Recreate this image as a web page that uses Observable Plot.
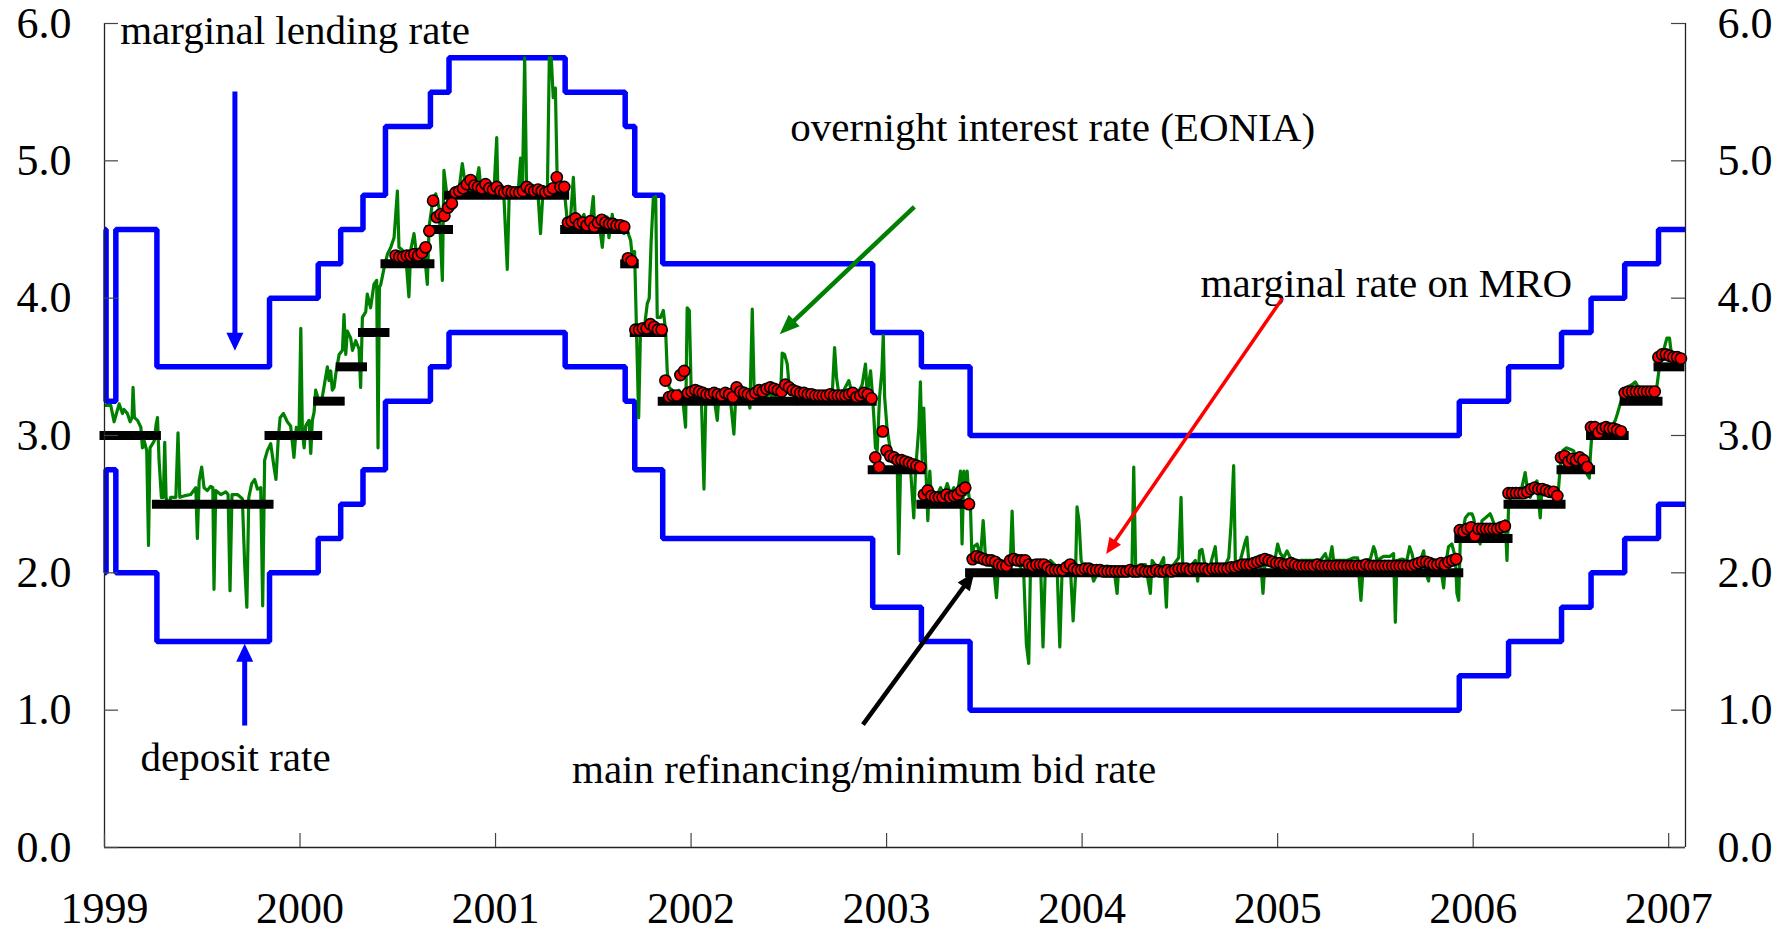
<!DOCTYPE html>
<html><head><meta charset="utf-8">
<script src="https://cdn.jsdelivr.net/npm/d3@7"></script>
<script src="https://cdn.jsdelivr.net/npm/@observablehq/plot@0.6"></script>
<style>html,body{margin:0;padding:0;background:#fff;}</style>
</head><body><div id="chart"></div>
<script>
// ---------- DATA (x = decimal year) ----------
const yTicks = [0, 1, 2, 3, 4, 5, 6];
const xTicks = [1999, 2000, 2001, 2002, 2003, 2004, 2005, 2006, 2007];

// ECB standing facility rates (step changes)
const policyDates      = [1999.000,1999.008,1999.058,1999.268,1999.844,2000.093,2000.208,2000.322,2000.437,2000.667,2000.762,2001.356,2001.663,2001.712,2001.855,2002.929,2003.178,2003.427,2005.929,2006.181,2006.452,2006.603,2006.775,2006.948,2007.086];
const marginalLending  = [4.50,3.25,4.50,3.50,4.00,4.25,4.50,4.75,5.25,5.50,5.75,5.50,5.25,4.75,4.25,3.75,3.50,3.00,3.25,3.50,3.75,4.00,4.25,4.50,4.50];
const depositRate      = [2.00,2.75,2.00,1.50,2.00,2.25,2.50,2.75,3.25,3.50,3.75,3.50,3.25,2.75,2.25,1.75,1.50,1.00,1.25,1.50,1.75,2.00,2.25,2.50,2.50];

// main refinancing / minimum bid rate
const mroFrom = [1999.000,1999.268,1999.844,2000.093,2000.208,2000.322,2000.437,2000.667,2000.762,2001.356,2001.663,2001.712,2001.855,2002.929,2003.178,2003.427,2005.929,2006.181,2006.452,2006.603,2006.775,2006.948];
const mroTo   = [1999.268,1999.844,2000.093,2000.208,2000.322,2000.437,2000.667,2000.762,2001.356,2001.663,2001.712,2001.855,2002.929,2003.178,2003.427,2005.929,2006.181,2006.452,2006.603,2006.775,2006.948,2007.060];
const mroRate = [3.00,2.50,3.00,3.25,3.50,3.75,4.25,4.50,4.75,4.50,4.25,3.75,3.25,2.75,2.50,2.00,2.25,2.50,2.75,3.00,3.25,3.50];

// marginal rate on weekly MROs, first variable-rate tender 28 June 2000
const mroMarginalStart = 2000.489;
const mroMarginal = [
  4.31,4.30,4.30,4.31,4.31,4.32,4.31,4.33,4.37,4.49,
  4.71,4.59,4.61,4.60,4.66,
  4.69,4.77,4.78,4.80,4.83,4.86,4.82,4.81,4.80,4.83,4.80,4.79,4.81,4.78,4.77,4.78,4.77,4.77,4.77,4.78,4.81,4.79,4.78,4.79,4.78,4.77,4.78,4.80,4.88,4.81,4.81,
  4.55,4.56,4.58,4.54,4.55,4.53,4.56,4.52,4.55,4.57,4.55,4.54,4.54,4.53,4.53,4.52,
  4.29,4.27,
  3.77,3.77,3.78,3.78,3.81,3.79,3.77,3.77,
  3.40,3.28,3.29,3.29,3.44,3.47,3.31,3.32,3.33,3.32,
  3.31,3.30,3.30,3.31,3.30,3.29,3.31,3.30,3.28,3.35,
  3.32,3.31,3.30,3.29,3.31,3.33,3.32,3.34,3.35,3.34,
  3.33,3.32,3.37,3.35,3.33,3.32,3.31,3.31,3.30,3.30,
  3.29,3.29,3.29,3.29,3.30,3.29,3.29,3.29,3.29,3.30,
  3.31,3.28,3.29,3.31,3.30,3.27,
  2.84,2.77,3.03,2.89,2.85,2.84,2.82,2.82,2.81,2.80,2.79,2.78,2.77,
  2.57,2.60,2.56,2.55,2.55,2.55,2.57,2.55,2.56,2.57,2.60,2.62,2.50,
  2.10,2.12,2.11,2.10,2.09,2.09,2.08,2.06,2.05,2.05,
  2.09,2.10,2.09,2.09,2.09,2.06,2.05,2.06,2.06,2.06,
  2.04,2.02,2.02,2.02,2.02,2.04,2.06,2.03,2.02,2.02,
  2.03,2.03,2.02,2.02,2.02,2.01,2.01,2.01,2.01,2.01,
  2.01,2.01,2.02,2.01,2.01,2.02,2.01,2.01,2.01,2.02,
  2.01,2.01,2.02,2.01,2.02,2.03,2.03,2.03,2.02,2.03,
  2.03,2.03,2.03,2.02,2.03,2.03,2.03,2.03,2.03,2.04,
  2.04,2.05,2.06,2.06,2.06,2.07,2.08,2.09,2.10,2.09,
  2.08,2.07,2.07,2.06,2.06,2.07,2.06,2.05,2.05,2.05,
  2.05,2.05,2.06,2.05,2.05,2.05,2.05,2.05,2.05,2.05,
  2.05,2.05,2.05,2.05,2.05,2.06,2.05,2.05,2.05,2.05,
  2.05,2.05,2.05,2.05,2.05,2.05,2.05,2.05,2.06,2.07,
  2.08,2.08,2.07,2.06,2.06,2.07,2.06,2.08,2.09,2.10,
  2.31,2.30,2.32,2.33,2.27,2.32,2.32,2.32,2.32,2.32,2.32,2.33,2.34,
  2.58,2.58,2.58,2.58,2.58,2.59,2.61,2.62,2.61,2.61,2.60,2.59,2.59,2.56,
  2.84,2.85,2.81,2.83,2.82,2.84,2.82,2.77,
  3.06,3.06,3.02,3.05,3.06,3.05,3.05,3.04,3.03,
  3.31,3.32,3.32,3.32,3.32,3.32,3.32,3.32,3.32,
  3.57,3.59,3.59,3.58,3.57,3.57,3.56
];

// overnight interest rate (EONIA), [decimal year, rate]
const eonia1999 = [[1999.005,3.22],[1999.032,3.22],[1999.049,3.10],[1999.075,3.23],[1999.092,3.16],[1999.100,3.19],[1999.117,3.16],[1999.131,3.10],[1999.141,3.13],[1999.146,3.35],[1999.153,3.13],[1999.169,3.11],[1999.186,3.06],[1999.194,2.91],[1999.203,2.96],[1999.216,2.89],[1999.225,2.20],[1999.233,2.91],[1999.254,2.96],[1999.264,3.08],[1999.271,3.13],[1999.279,2.82],[1999.291,2.55],[1999.301,2.55],[1999.308,2.95],[1999.315,2.55],[1999.325,2.48],[1999.339,2.55],[1999.365,2.55],[1999.376,3.02],[1999.385,2.55],[1999.407,2.56],[1999.441,2.57],[1999.467,2.62],[1999.475,2.25],[1999.484,2.67],[1999.497,2.77],[1999.509,2.62],[1999.526,2.60],[1999.543,2.63],[1999.554,2.62],[1999.560,1.88],[1999.569,2.60],[1999.595,2.57],[1999.620,2.59],[1999.632,2.57],[1999.642,1.87],[1999.652,2.57],[1999.680,2.57],[1999.705,2.54],[1999.717,2.06],[1999.728,1.75],[1999.738,2.55],[1999.753,2.65],[1999.768,2.68],[1999.782,2.61],[1999.799,2.62],[1999.809,1.76],[1999.819,2.82],[1999.833,2.89],[1999.850,2.94],[1999.867,2.77],[1999.877,2.68],[1999.888,2.96],[1999.898,3.13],[1999.915,3.16],[1999.935,3.10],[1999.952,3.07],[1999.969,2.84],[1999.981,3.06],[1999.995,3.03]];
const eonia2000 = [[2000.004,3.78],[2000.012,3.03],[2000.021,2.91],[2000.029,3.07],[2000.046,3.11],[2000.055,2.87],[2000.063,3.11],[2000.072,3.17],[2000.080,3.33],[2000.097,3.25],[2000.114,3.28],[2000.140,3.50],[2000.148,3.40],[2000.157,3.47],[2000.165,3.33],[2000.174,3.35],[2000.183,3.45],[2000.200,3.59],[2000.217,3.62],[2000.225,3.88],[2000.234,3.59],[2000.242,3.76],[2000.259,3.71],[2000.268,3.62],[2000.285,3.69],[2000.302,3.63],[2000.310,3.35],[2000.319,3.86],[2000.336,3.90],[2000.344,4.03],[2000.361,3.93],[2000.378,4.10],[2000.392,4.13],[2000.399,2.91],[2000.406,4.08],[2000.413,4.10],[2000.430,4.22],[2000.447,4.32],[2000.464,4.37],[2000.481,4.44],[2000.498,4.78],[2000.506,4.37],[2000.523,4.35],[2000.540,4.32],[2000.557,4.01],[2000.566,4.35],[2000.583,4.47],[2000.600,4.27],[2000.617,4.37],[2000.634,4.37],[2000.651,4.10],[2000.660,4.52],[2000.677,4.69],[2000.694,4.76],[2000.711,4.66],[2000.728,4.13],[2000.736,4.93],[2000.753,4.73],[2000.770,4.76],[2000.787,4.78],[2000.813,4.79],[2000.830,4.98],[2000.847,4.81],[2000.864,4.78],[2000.890,4.76],[2000.915,4.95],[2000.924,4.81],[2000.941,4.76],[2000.966,4.77],[2000.992,4.78]];
const eonia2001 = [[2001.006,5.17],[2001.012,4.78],[2001.026,4.76],[2001.043,4.73],[2001.060,4.21],[2001.070,4.76],[2001.094,4.77],[2001.115,4.76],[2001.128,5.02],[2001.137,4.76],[2001.149,5.75],[2001.159,4.76],[2001.179,4.76],[2001.197,4.78],[2001.217,4.76],[2001.230,4.47],[2001.244,4.81],[2001.265,4.76],[2001.275,5.75],[2001.285,5.75],[2001.295,5.46],[2001.306,5.53],[2001.316,4.81],[2001.333,4.85],[2001.350,4.81],[2001.367,4.56],[2001.384,4.59],[2001.398,4.88],[2001.409,4.56],[2001.426,4.54],[2001.452,4.61],[2001.469,4.49],[2001.486,4.56],[2001.500,4.74],[2001.507,4.51],[2001.520,4.51],[2001.537,4.47],[2001.546,4.37],[2001.554,4.51],[2001.571,4.59],[2001.580,4.44],[2001.597,4.61],[2001.606,4.49],[2001.623,4.51],[2001.640,4.49],[2001.657,4.47],[2001.674,4.49],[2001.691,4.42],[2001.701,4.27],[2001.711,4.34],[2001.721,3.76],[2001.732,3.13],[2001.742,3.81],[2001.759,3.76],[2001.776,3.96],[2001.786,4.00],[2001.796,4.42],[2001.807,4.73],[2001.819,4.74],[2001.827,3.86],[2001.844,3.86],[2001.858,3.91],[2001.870,3.76],[2001.878,3.47],[2001.888,3.35],[2001.904,3.33],[2001.921,3.30],[2001.938,3.33],[2001.955,3.30],[2001.972,3.06],[2001.980,3.93],[2001.991,3.91]];
const eonia2002 = [[2002.001,3.30],[2002.015,3.30],[2002.032,3.33],[2002.052,3.30],[2002.066,2.61],[2002.076,3.30],[2002.100,3.30],[2002.117,3.28],[2002.134,3.11],[2002.144,3.33],[2002.165,3.30],[2002.185,3.33],[2002.202,3.25],[2002.219,3.01],[2002.229,3.30],[2002.253,3.28],[2002.270,3.30],[2002.287,3.28],[2002.301,3.20],[2002.313,3.92],[2002.323,3.30],[2002.338,3.30],[2002.364,3.33],[2002.381,3.28],[2002.398,3.30],[2002.424,3.28],[2002.441,3.30],[2002.458,3.30],[2002.466,3.60],[2002.478,3.59],[2002.492,3.52],[2002.505,3.30],[2002.526,3.30],[2002.543,3.23],[2002.551,3.28],[2002.577,3.30],[2002.611,3.30],[2002.628,3.28],[2002.654,3.30],[2002.679,3.30],[2002.705,3.33],[2002.722,3.30],[2002.734,3.64],[2002.744,3.42],[2002.756,3.30],[2002.781,3.33],[2002.807,3.40],[2002.824,3.30],[2002.850,3.30],[2002.875,3.37],[2002.892,3.52],[2002.901,3.30],[2002.918,3.47],[2002.926,3.33],[2002.935,3.13],[2002.943,2.91],[2002.952,2.89],[2002.964,3.28],[2002.976,3.47],[2002.983,3.73],[2002.990,3.28]];
const eonia2003 = [[2003.003,3.04],[2003.020,2.89],[2003.037,2.82],[2003.054,2.82],[2003.062,2.14],[2003.071,2.74],[2003.088,2.82],[2003.105,2.82],[2003.122,2.77],[2003.139,2.40],[2003.148,2.74],[2003.165,3.06],[2003.173,3.39],[2003.182,2.82],[2003.190,3.20],[2003.199,2.82],[2003.211,2.38],[2003.221,2.74],[2003.228,2.57],[2003.241,2.53],[2003.259,2.57],[2003.276,2.62],[2003.293,2.57],[2003.310,2.65],[2003.327,2.57],[2003.344,2.62],[2003.361,2.55],[2003.378,2.74],[2003.386,2.21],[2003.395,2.74],[2003.403,2.57],[2003.412,2.74],[2003.420,2.57],[2003.429,2.48],[2003.437,2.09],[2003.446,2.19],[2003.463,2.21],[2003.480,2.11],[2003.494,2.38],[2003.506,2.11],[2003.523,2.11],[2003.540,2.09],[2003.552,1.97],[2003.562,1.82],[2003.574,2.09],[2003.599,2.06],[2003.633,2.09],[2003.642,2.45],[2003.650,2.11],[2003.667,2.09],[2003.685,2.04],[2003.702,1.97],[2003.715,1.48],[2003.727,1.34],[2003.736,2.04],[2003.753,2.09],[2003.770,2.04],[2003.787,2.09],[2003.800,1.46],[2003.812,2.04],[2003.838,2.09],[2003.872,2.04],[2003.886,1.46],[2003.898,2.04],[2003.915,2.06],[2003.940,2.04],[2003.954,1.65],[2003.966,1.97],[2003.974,2.48],[2003.984,2.38],[2003.995,2.09]];
const eonia2004 = [[2004.008,2.04],[2004.025,1.99],[2004.042,2.04],[2004.059,1.94],[2004.076,1.99],[2004.094,2.04],[2004.128,2.05],[2004.162,2.04],[2004.179,1.85],[2004.187,2.04],[2004.213,2.04],[2004.247,2.04],[2004.255,2.04],[2004.264,2.77],[2004.274,2.04],[2004.298,2.06],[2004.324,2.06],[2004.349,1.85],[2004.358,2.09],[2004.383,2.04],[2004.400,2.06],[2004.417,2.11],[2004.431,1.75],[2004.438,2.04],[2004.468,2.06],[2004.494,2.11],[2004.506,2.55],[2004.515,2.04],[2004.537,2.04],[2004.562,2.06],[2004.579,2.09],[2004.591,1.94],[2004.601,2.16],[2004.613,2.17],[2004.630,2.04],[2004.656,2.06],[2004.681,2.19],[2004.690,2.04],[2004.707,2.04],[2004.733,2.06],[2004.750,2.11],[2004.762,2.36],[2004.775,2.78],[2004.784,2.06],[2004.809,2.09],[2004.835,2.23],[2004.843,2.26],[2004.852,2.09],[2004.877,2.09],[2004.895,2.09],[2004.912,2.11],[2004.925,1.85],[2004.937,2.11],[2004.963,2.11],[2004.988,2.11]];
const eonia2005 = [[2005.000,2.21],[2005.014,2.14],[2005.031,2.11],[2005.048,2.16],[2005.065,2.11],[2005.082,2.06],[2005.116,2.09],[2005.150,2.09],[2005.184,2.09],[2005.218,2.09],[2005.244,2.14],[2005.261,2.06],[2005.278,2.19],[2005.286,2.09],[2005.321,2.09],[2005.355,2.09],[2005.389,2.11],[2005.409,2.11],[2005.426,1.80],[2005.440,2.09],[2005.474,2.10],[2005.491,2.19],[2005.499,2.16],[2005.508,2.09],[2005.542,2.12],[2005.576,2.12],[2005.593,2.14],[2005.602,1.64],[2005.610,2.09],[2005.636,2.10],[2005.661,2.09],[2005.675,2.19],[2005.687,2.14],[2005.695,2.09],[2005.730,2.09],[2005.747,2.16],[2005.760,1.99],[2005.772,1.94],[2005.781,2.09],[2005.815,2.06],[2005.832,2.06],[2005.849,1.89],[2005.857,2.04],[2005.874,2.19],[2005.891,2.21],[2005.909,2.11],[2005.917,1.85],[2005.926,1.80],[2005.934,2.23],[2005.943,2.28],[2005.960,2.40],[2005.977,2.43],[2005.994,2.43]];
const eonia2006 = [[2006.002,2.40],[2006.019,2.28],[2006.036,2.21],[2006.045,2.38],[2006.062,2.40],[2006.087,2.43],[2006.096,2.40],[2006.113,2.33],[2006.147,2.33],[2006.164,2.38],[2006.173,2.09],[2006.181,2.48],[2006.198,2.60],[2006.224,2.60],[2006.249,2.62],[2006.266,2.73],[2006.278,2.60],[2006.292,2.55],[2006.309,2.62],[2006.326,2.67],[2006.343,2.40],[2006.352,2.62],[2006.377,2.62],[2006.403,2.60],[2006.420,2.62],[2006.428,2.48],[2006.437,2.62],[2006.445,2.77],[2006.459,2.89],[2006.476,2.91],[2006.496,2.90],[2006.513,2.89],[2006.531,2.84],[2006.547,2.79],[2006.565,2.77],[2006.582,2.72],[2006.594,2.69],[2006.599,2.84],[2006.607,3.01],[2006.624,3.06],[2006.641,3.06],[2006.667,3.08],[2006.692,3.06],[2006.710,3.07],[2006.727,3.11],[2006.738,3.16],[2006.752,3.23],[2006.769,3.30],[2006.786,3.35],[2006.812,3.37],[2006.829,3.39],[2006.854,3.33],[2006.888,3.31],[2006.922,3.31],[2006.939,3.35],[2006.948,3.45],[2006.957,3.57],[2006.974,3.62],[2006.991,3.71],[2007.004,3.71],[2007.016,3.57],[2007.042,3.57],[2007.059,3.56],[2007.084,3.56]];

// annotations: label text positions and arrows (data coordinates)
const labels = [
  {text: "marginal lending rate", x: 1999.080, y: 5.947},
  {text: "overnight interest rate (EONIA)", x: 2002.507, y: 5.239},
  {text: "marginal rate on MRO", x: 2004.606, y: 4.103},
  {text: "deposit rate", x: 1999.184, y: 0.654},
  {text: "main refinancing/minimum bid rate", x: 2001.391, y: 0.568}
];
const arrows = [
  {x1: 1999.667, y1: 5.505, x2: 1999.667, y2: 3.617, color: "#0000ff", w: 5,   len: 18, half: 8.5},
  {x1: 1999.717, y1: 0.888, x2: 1999.717, y2: 1.483, color: "#0000ff", w: 5,   len: 18, half: 8.5},
  {x1: 2003.142, y1: 4.665, x2: 2002.453, y2: 3.737, color: "#008000", w: 4.5, len: 20, half: 8},
  {x1: 2005.024, y1: 3.998, x2: 2004.123, y2: 2.137, color: "#ff0000", w: 3.5, len: 16, half: 7},
  {x1: 2002.879, y1: 0.895, x2: 2003.449, y2: 2.004, color: "#000000", w: 4.5, len: 18, half: 7.5}
];

// ---------- LAYOUT ----------
const W = 1787, H = 934, mL = 104, mR = 102, mT = 23, mB = 87;
const X0 = 1999, X1 = 2007.086;
const innerW = W - mL - mR, innerH = H - mT - mB;
const pxPerYear = innerW / (X1 - X0), pxPerUnit = innerH / 6;

const policy = policyDates.map((t, i) => ({t, ml: marginalLending[i], dep: depositRate[i]}));
const mroBars = mroFrom.map((t, i) => ({x1: t, x2: mroTo[i], y: mroRate[i]}));
const mroDots = mroMarginal.map((v, i) => ({t: mroMarginalStart + i * 7 / 365.25, v}));
const eonia = [...eonia1999, ...eonia2000, ...eonia2001, ...eonia2002, ...eonia2003, ...eonia2004, ...eonia2005, ...eonia2006]
  .map(([t, v]) => ({t, v}));

arrows.forEach(a => {
  const dx = (a.x2 - a.x1) * pxPerYear, dy = -(a.y2 - a.y1) * pxPerUnit;
  a.angle = Math.atan2(dx, -dy) * 180 / Math.PI;
});
const headSymbol = (len, half) => ({
  draw(ctx) { ctx.moveTo(0, 0); ctx.lineTo(half, len); ctx.lineTo(-half, len); ctx.closePath(); }
});

const fmt1 = d3.format(".1f");
const axisStroke = "#222";

const chart = Plot.plot({
  width: W, height: H,
  marginLeft: mL, marginRight: mR, marginTop: mT, marginBottom: mB,
  x: {domain: [X0, X1]},
  y: {domain: [0, 6]},
  style: {fontFamily: "'Liberation Serif', 'Times New Roman', serif", fontSize: "44px", background: "#fff", color: "#000"},
  marks: [
    Plot.line(policy, {x: "t", y: "ml", curve: "step-after", stroke: "#0000ff", strokeWidth: 5.5, strokeLinejoin: "miter", strokeLinecap: "butt"}),
    Plot.line(policy, {x: "t", y: "dep", curve: "step-after", stroke: "#0000ff", strokeWidth: 5.5, strokeLinejoin: "miter", strokeLinecap: "butt"}),
    Plot.line(eonia, {x: "t", y: "v", stroke: "#008000", strokeWidth: 3.2, strokeLinejoin: "round"}),
    Plot.ruleY(mroBars, {x1: "x1", x2: "x2", y: "y", stroke: "#000", strokeWidth: 9, strokeLinecap: "square"}),
    Plot.dot(mroDots, {x: "t", y: "v", r: 5.6, fill: "#ff0000", stroke: "#000", strokeWidth: 1.6}),
    // frame lines
    Plot.ruleX([X0, X1], {stroke: axisStroke, strokeWidth: 1.3}),
    Plot.ruleY([0], {stroke: axisStroke, strokeWidth: 1.3}),
    // inward tick marks
    Plot.tickY(yTicks, {y: d => d, insetRight: innerW - 14, stroke: "#444", strokeWidth: 1.2}),
    Plot.tickY(yTicks, {y: d => d, insetLeft: innerW - 14, stroke: "#444", strokeWidth: 1.2}),
    Plot.tickX(xTicks, {x: d => d, insetTop: innerH - 14, stroke: "#444", strokeWidth: 1.2}),
    // tick labels
    Plot.axisY({anchor: "left", ticks: yTicks, tickFormat: fmt1, tickSize: 0, tickPadding: 33, label: null}),
    Plot.axisY({anchor: "right", ticks: yTicks, tickFormat: fmt1, tickSize: 0, tickPadding: 32, label: null}),
    Plot.axisX({anchor: "bottom", ticks: xTicks, tickFormat: d => String(d), tickSize: 0, tickPadding: 44, label: null}),
    // annotations
    Plot.text(labels, {x: "x", y: "y", text: "text", textAnchor: "start", lineAnchor: "middle", fontSize: 41, fill: "#000"}),
    ...arrows.flatMap(a => [
      Plot.arrow([a], {x1: "x1", y1: "y1", x2: "x2", y2: "y2", stroke: a.color, strokeWidth: a.w, headLength: 0, insetEnd: a.len * 0.6, strokeLinecap: "butt"}),
      Plot.dot([a], {x: "x2", y: "y2", symbol: headSymbol(a.len, a.half), rotate: "angle", fill: a.color, stroke: "none", r: 10})
    ])
  ]
});
document.getElementById("chart").appendChild(chart);
</script>
</body></html>
